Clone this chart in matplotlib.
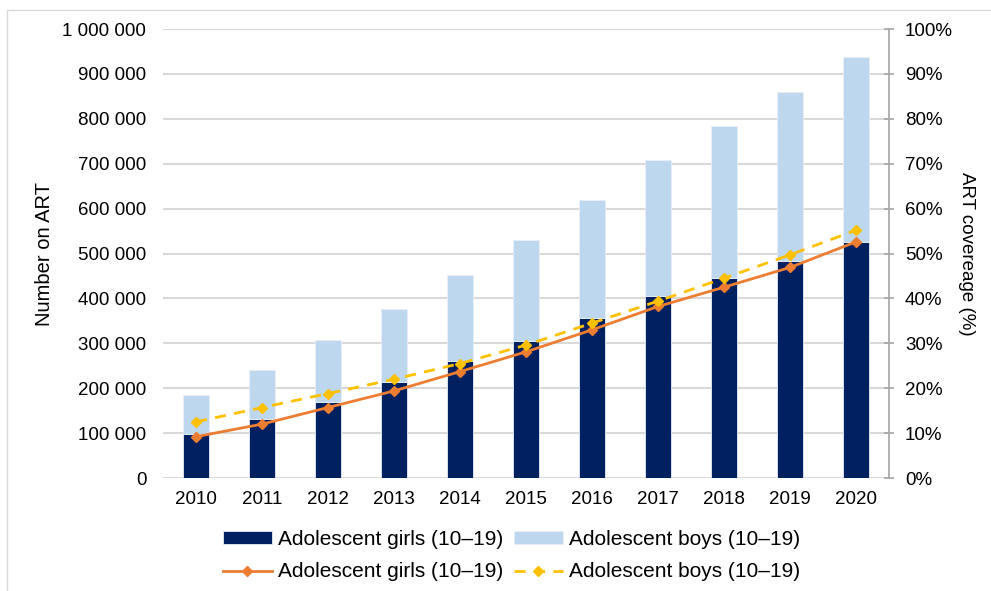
import matplotlib.pyplot as plt
import matplotlib.patches as mpatches
from matplotlib.ticker import FuncFormatter
import numpy as np

plt.rcParams['font.family'] = ['Liberation Sans', 'DejaVu Sans']

years = ['2010', '2011', '2012', '2013', '2014', '2015', '2016', '2017', '2018', '2019', '2020']
girls_art = [98000, 132000, 169000, 214000, 260000, 305000, 356000, 405000, 446000, 483000, 525000]
boys_art = [87000, 109000, 138000, 162000, 192000, 225000, 263000, 303000, 338000, 376000, 412000]
girls_cov = [9.2, 12.0, 15.7, 19.4, 23.7, 28.1, 33.0, 38.2, 42.5, 46.9, 52.6]
boys_cov = [12.5, 15.7, 18.8, 22.0, 25.5, 29.6, 34.5, 39.4, 44.5, 49.7, 55.2]

navy = '#002060'
light = '#BDD7EE'
orange = '#ED7D31'
gold = '#FFC000'
grid_c = '#D9D9D9'

fig = plt.figure(figsize=(9.91, 5.91), dpi=100)
ax = fig.add_axes([0.1645, 0.1912, 0.7326, 0.7597])

x = np.arange(len(years))
b1 = ax.bar(x, girls_art, width=0.4, color=navy, edgecolor='#E8EEF7', linewidth=0.6,
            label='Adolescent girls (10–19)')
b2 = ax.bar(x, boys_art, width=0.4, bottom=girls_art, color=light, edgecolor='#E8EEF7',
            linewidth=0.6, label='Adolescent boys (10–19)')

ax.set_xlim(-0.5, len(years) - 0.5)
ax.set_ylim(0, 1000000)
ax.set_yticks(np.arange(0, 1000001, 100000))
ax.yaxis.set_major_formatter(FuncFormatter(lambda v, p: f'{int(v):,}'.replace(',', ' ')))
ax.set_xticks(x)
ax.set_xticklabels(years)
ax.set_axisbelow(True)
ax.grid(axis='y', color=grid_c, linewidth=1.5)
ax.tick_params(axis='y', length=0, pad=12, labelsize=13.5, colors='black')
ax.tick_params(axis='x', length=0, pad=9, labelsize=13.5)
for s in ax.spines.values():
    s.set_visible(False)
ax.set_ylabel('Number on ART', fontsize=14.5, labelpad=6)

ax2 = ax.twinx()
l1, = ax2.plot(x, girls_cov, color=orange, linewidth=2, marker='D', markersize=5,
               label='Adolescent girls (10–19)')
l2, = ax2.plot(x, boys_cov, color=gold, linewidth=2, linestyle=(0, (4, 3)), marker='D',
               markersize=5, label='Adolescent boys (10–19)')
ax2.set_ylim(0, 100)
ax2.set_yticks(np.arange(0, 101, 10))
ax2.yaxis.set_major_formatter(FuncFormatter(lambda v, p: f'{int(v)}%'))
for name, s in ax2.spines.items():
    s.set_visible(name == 'right')
ax2.spines['right'].set_color('#A6A6A6')
ax2.spines['right'].set_linewidth(1.2)
ax2.tick_params(axis='y', direction='inout', length=7, width=1.2, color='#A6A6A6',
                pad=8, labelsize=13.5)
ax2.set_ylabel('ART covereage (%)', fontsize=13.5, rotation=270, labelpad=16)

fig.legend(handles=[b1, l1, b2, l2], ncol=2, loc='center', bbox_to_anchor=(0.516, 0.06),
           frameon=False, fontsize=15, handlelength=2.35, handleheight=0.53,
           columnspacing=0.5, handletextpad=0.3, labelspacing=0.65)

# faint outer frame of the original chart area
fig.add_artist(mpatches.Rectangle((0.007, -0.1), 1.1, 1.083, transform=fig.transFigure,
                                  fill=False, edgecolor='#D9D9D9', linewidth=1))

fig.savefig('out.png', dpi=100)
